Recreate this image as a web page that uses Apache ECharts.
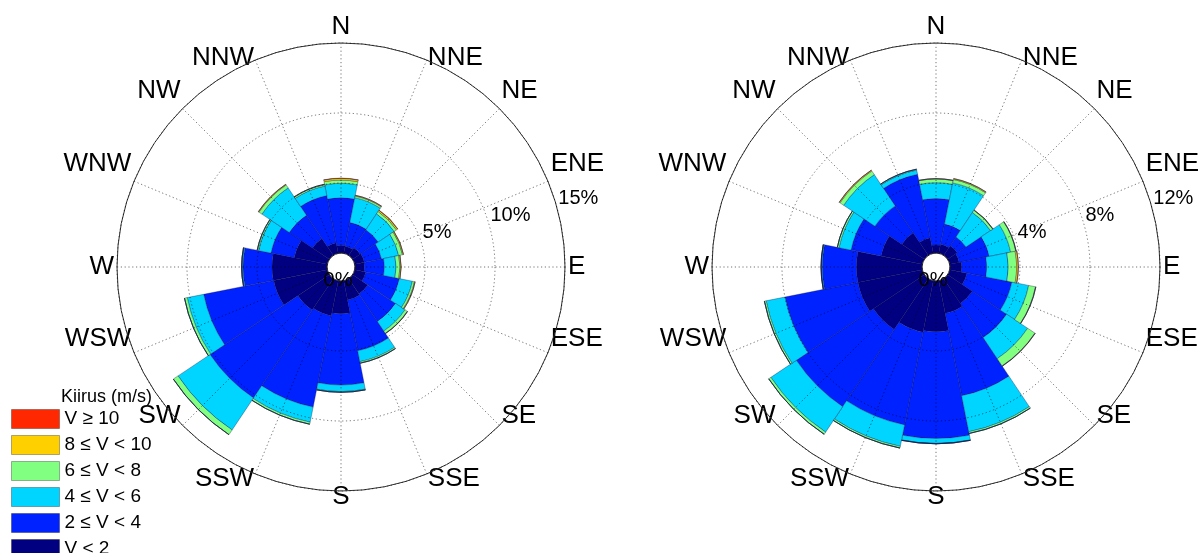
<!DOCTYPE html>
<html>
<head>
<meta charset="utf-8">
<script src="https://cdn.jsdelivr.net/npm/echarts@6/dist/echarts.min.js"></script>
<style>
  html, body { margin: 0; padding: 0; background: #fff; }
  #chart { width: 1204px; height: 553px; }
</style>
</head>
<body>
<div id="chart"></div>
<script>
// Compass sectors, clockwise from north
const DIRS = ['N','NNE','NE','ENE','E','ESE','SE','SSE','S','SSW','SW','WSW','W','WNW','NW','NNW'];
// Wind speed classes, slowest first (stack order from the centre outwards)
const CLASSES = ['V < 2', '2 \u2264 V < 4', '4 \u2264 V < 6', '6 \u2264 V < 8', '8 \u2264 V < 10', 'V \u2265 10'];
const COLORS = ['#000080', '#0022ff', '#00d5ff', '#80ff80', '#ffd000', '#ff2800'];
const LEGEND_TITLE = 'Kiirus (m/s)';

// Left rose: frequency (%) per sector for each speed class
const L_V0_2  = [0.55,0.52,0.65,0.70,0.67,0.80,1.30,1.40,2.33,2.55,2.70,3.90,3.93,2.40,1.45,0.76];
const L_V2_4  = [3.40,1.72,1.55,1.25,1.43,2.45,2.38,3.70,5.10,6.65,7.55,5.10,2.07,1.70,2.00,3.44];
const L_V4_6  = [1.03,1.81,1.37,1.25,0.83,0.95,0.82,0.80,0.47,1.10,2.75,1.20,0.07,0.90,2.35,0.70];
const L_V6_8  = [0.23,0.12,0.20,0.28,0.28,0.15,0.20,0.10,0.05,0.15,0.40,0.20,0.03,0.10,0.25,0.10];
const L_V8_10 = [0.12,0.05,0.10,0.07,0.08,0.05,0.02,0.01,0.00,0.00,0.01,0.00,0.00,0.01,0.05,0.03];
const L_V10   = [0.02,0.01,0.02,0.01,0.01,0.00,0.00,0.00,0.00,0.00,0.00,0.00,0.00,0.00,0.01,0.00];
const L_TICKS = [0, 5, 10, 15];

// Right rose
const R_V0_2  = [0.46,0.53,0.66,0.55,0.67,1.00,1.70,1.90,2.90,3.00,3.50,3.75,3.75,2.40,1.55,0.90];
const R_V2_4  = [2.66,1.17,0.60,1.75,1.43,2.62,2.35,4.80,6.10,5.40,5.30,4.25,1.95,1.75,1.85,3.70];
const R_V4_6  = [0.90,2.40,1.69,1.25,1.23,0.98,1.45,2.10,0.28,1.25,1.75,1.10,0.05,0.70,2.15,0.25];
const R_V6_8  = [0.21,0.20,0.15,0.30,0.48,0.40,0.50,0.10,0.02,0.10,0.15,0.10,0.02,0.10,0.25,0.05];
const R_V8_10 = [0.02,0.05,0.02,0.02,0.09,0.02,0.02,0.00,0.00,0.00,0.00,0.00,0.00,0.00,0.05,0.00];
const R_V10   = [0.00,0.01,0.00,0.00,0.01,0.00,0.00,0.00,0.00,0.00,0.00,0.00,0.00,0.00,0.01,0.00];
const R_TICKS = [0, 4, 8, 12];

// Vertical nudge (px, + = down) of each compass name from its default placement
const NAME_NUDGE = [0, 14, -3, -3, 0, -28, -25, -11, -10, -11, -25, -28, 0, -3, -3, 14];

const FONT = 'Liberation Sans, Arial, Helvetica, sans-serif';
const ROSES = [
  { cx: 341, classes: [L_V0_2, L_V2_4, L_V4_6, L_V6_8, L_V8_10, L_V10], ticks: L_TICKS },
  { cx: 936, classes: [R_V0_2, R_V2_4, R_V4_6, R_V6_8, R_V8_10, R_V10], ticks: R_TICKS }
];
const CY = 267, R_IN = 14, R_OUT = 224;
const SECTOR = 360 / DIRS.length;
const GRID_LINE = { color: '#000', type: [1.2, 2.6], width: 1, opacity: 0.55 };

const polar = [], angleAxis = [], radiusAxis = [], series = [];

ROSES.forEach((rose, k) => {
  const base = k * 3;
  const tickMax = rose.ticks[rose.ticks.length - 1];
  const tickStep = rose.ticks[1] - rose.ticks[0];
  for (let i = 0; i < 3; i++) {
    polar.push({ center: [rose.cx, CY], radius: [R_IN, R_OUT] });
  }
  // 0: bars (sector centred on each compass direction)
  angleAxis.push({
    polarIndex: base, type: 'category', data: DIRS,
    startAngle: 90 + SECTOR / 2, clockwise: true, boundaryGap: true,
    axisLine: { show: false }, axisTick: { show: false },
    axisLabel: { show: false }, splitLine: { show: false }
  });
  radiusAxis.push({
    polarIndex: base, type: 'value', min: 0, max: tickMax,
    axisLine: { show: false }, axisTick: { show: false },
    axisLabel: { show: false }, splitLine: { show: false }
  });
  // 1: dotted spokes and compass names, drawn over the bars
  angleAxis.push({
    polarIndex: base + 1, type: 'category', boundaryGap: false,
    data: DIRS.map((d, i) => ({
      value: d,
      textStyle: { padding: [NAME_NUDGE[i], 0, -NAME_NUDGE[i], 0] }
    })),
    startAngle: 90, clockwise: true, z: 10,
    axisLine: { show: false }, axisTick: { show: false },
    splitLine: { show: true, interval: 0, lineStyle: GRID_LINE },
    axisLabel: { show: true, interval: 0, margin: 3, fontFamily: FONT, fontSize: 26, color: '#000' }
  });
  radiusAxis.push({
    polarIndex: base + 1, type: 'value', min: 0, max: tickMax, show: false
  });
  // 2: outer circle, dotted rings and percentage labels along a ray just below ENE
  angleAxis.push({
    polarIndex: base + 2, type: 'value', min: 0, max: 360, startAngle: 14, z: 10,
    axisLine: { show: true, lineStyle: { color: '#333', width: 1 } },
    axisTick: { show: false }, axisLabel: { show: false }, splitLine: { show: false }
  });
  radiusAxis.push({
    polarIndex: base + 2, type: 'value', min: 0, max: tickMax, interval: tickStep, z: 11,
    axisLine: { show: false }, axisTick: { show: false },
    splitLine: { show: true, showMinLine: false, lineStyle: GRID_LINE },
    axisLabel: {
      show: true, margin: 0, align: 'left', verticalAlign: 'bottom', padding: [0, 0, 4, 0],
      fontFamily: FONT, fontSize: 20, color: '#000',
      formatter: v => (v === 0 ? '' : v + '%')
    },
    name: rose.ticks[0] + '%', nameLocation: 'start', nameGap: R_IN,
    nameTextStyle: {
      fontFamily: FONT, fontSize: 20, color: '#000',
      align: 'center', verticalAlign: 'top', padding: [3, 6, 0, 0]
    }
  });

  rose.classes.forEach((vals, c) => {
    series.push({
      type: 'bar', name: CLASSES[c], coordinateSystem: 'polar', polarIndex: base,
      stack: 'rose' + k, data: vals, barCategoryGap: '0%',
      itemStyle: { color: COLORS[c], borderColor: 'rgba(10,10,60,0.55)', borderWidth: 0.6 },
      emphasis: { disabled: true }
    });
  });
});

const chart = echarts.init(document.getElementById('chart'), null, { renderer: 'canvas' });
chart.setOption({
  animation: false,
  backgroundColor: '#fff',
  title: {
    text: LEGEND_TITLE, left: 61, top: 388, padding: 0,
    textStyle: { fontFamily: FONT, fontSize: 18, fontWeight: 'normal', color: '#000' }
  },
  legend: {
    orient: 'vertical', left: 11, top: 409, height: 200, padding: 0,
    icon: 'rect', itemWidth: 48, itemHeight: 19, itemGap: 6,
    data: CLASSES.slice().reverse(),
    selectedMode: false,
    itemStyle: { borderWidth: 1, borderColor: 'rgba(0,0,0,0.3)' },
    textStyle: { fontFamily: FONT, fontSize: 19, color: '#000', lineHeight: 19 }
  },
  polar, angleAxis, radiusAxis, series
});
</script>
</body>
</html>
